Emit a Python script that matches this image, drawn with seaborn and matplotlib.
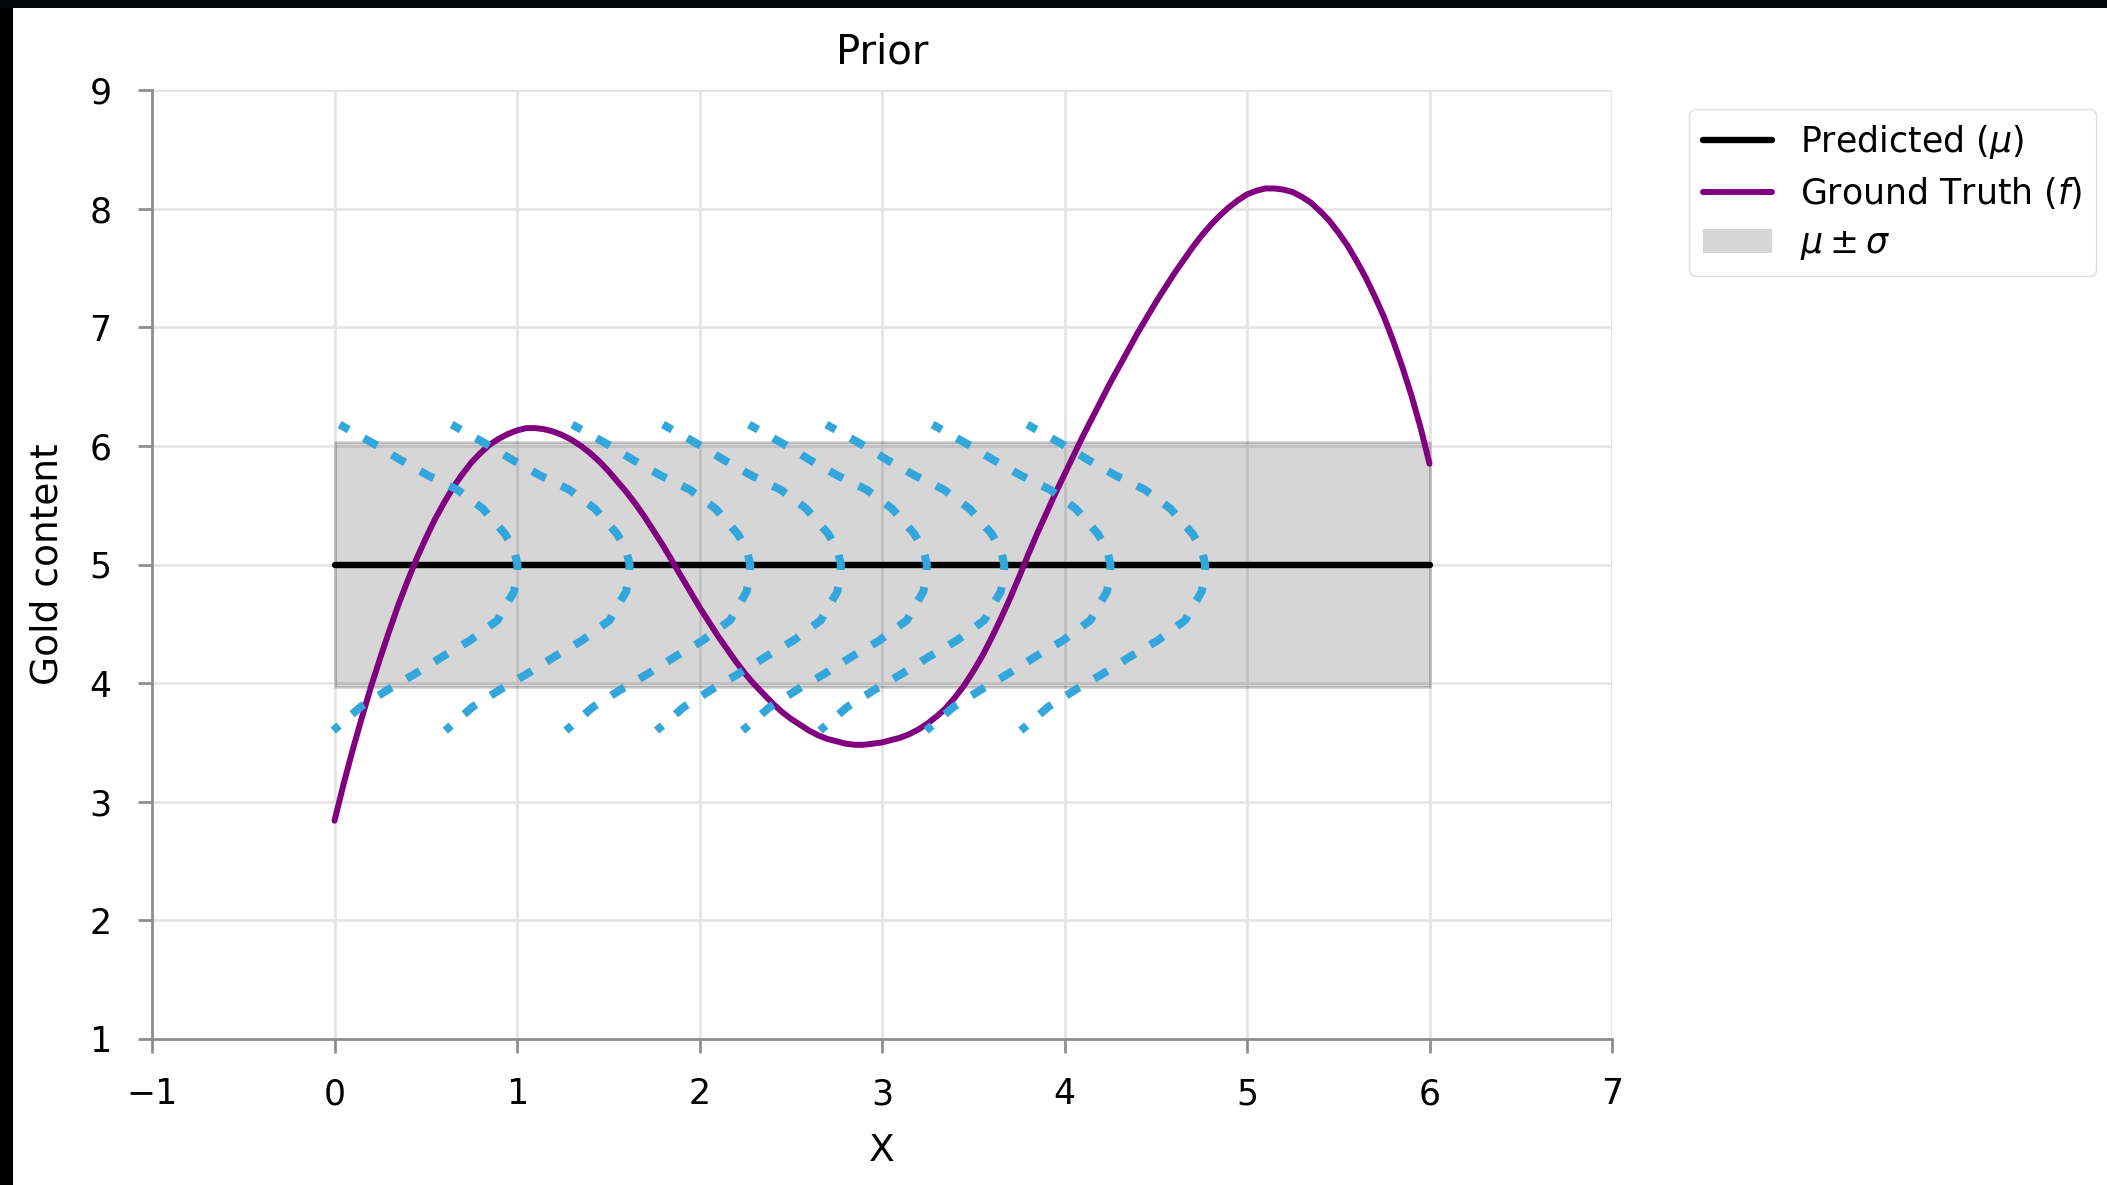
import matplotlib
matplotlib.use("Agg")
import matplotlib.pyplot as plt
from matplotlib.patches import Rectangle, Patch
from matplotlib.lines import Line2D
import pandas as pd
import seaborn as sns

# Ground truth gold content f(x), read every 0.05
truth_x = [0.0, 0.05, 0.1, 0.15, 0.2, 0.25, 0.3, 0.35, 0.4, 0.45,
           0.5, 0.55, 0.6, 0.65, 0.7, 0.75, 0.8, 0.85, 0.9, 0.95,
           1.0, 1.05, 1.1, 1.15, 1.2, 1.25, 1.3, 1.35, 1.4, 1.45,
           1.5, 1.55, 1.6, 1.65, 1.7, 1.75, 1.8, 1.85, 1.9, 1.95,
           2.0, 2.05, 2.1, 2.15, 2.2, 2.25, 2.3, 2.35, 2.4, 2.45,
           2.5, 2.55, 2.6, 2.65, 2.7, 2.75, 2.8, 2.85, 2.9, 2.95,
           3.0, 3.05, 3.1, 3.15, 3.2, 3.25, 3.3, 3.35, 3.4, 3.45,
           3.5, 3.55, 3.6, 3.65, 3.7, 3.75, 3.8, 3.85, 3.9, 3.95,
           4.0, 4.05, 4.1, 4.15, 4.2, 4.25, 4.3, 4.35, 4.4, 4.45,
           4.5, 4.55, 4.6, 4.65, 4.7, 4.75, 4.8, 4.85, 4.9, 4.95,
           5.0, 5.05, 5.1, 5.15, 5.2, 5.25, 5.3, 5.35, 5.4, 5.45,
           5.5, 5.55, 5.6, 5.65, 5.7, 5.75, 5.8, 5.85, 5.9, 5.95, 6.0]
truth_y = [2.84, 3.15, 3.44, 3.71, 3.97, 4.21, 4.44, 4.66, 4.86, 5.05,
           5.22, 5.38, 5.52, 5.65, 5.76, 5.86, 5.94, 6.01, 6.06, 6.10,
           6.13, 6.15, 6.15, 6.14, 6.12, 6.09, 6.05, 6.00, 5.94, 5.87,
           5.79, 5.70, 5.61, 5.51, 5.40, 5.28, 5.16, 5.03, 4.90, 4.77,
           4.64, 4.52, 4.40, 4.29, 4.18, 4.08, 3.99, 3.91, 3.83, 3.76,
           3.70, 3.65, 3.60, 3.56, 3.53, 3.51, 3.49, 3.48, 3.48, 3.49,
           3.50, 3.52, 3.54, 3.57, 3.61, 3.66, 3.72, 3.79, 3.88, 3.98,
           4.10, 4.23, 4.38, 4.54, 4.71, 4.89, 5.08, 5.26, 5.43, 5.60,
           5.76, 5.92, 6.08, 6.23, 6.38, 6.53, 6.67, 6.81, 6.95, 7.08,
           7.21, 7.33, 7.45, 7.56, 7.67, 7.77, 7.86, 7.94, 8.01, 8.07,
           8.12, 8.15, 8.17, 8.17, 8.16, 8.14, 8.10, 8.05, 7.98, 7.90,
           7.80, 7.69, 7.56, 7.42, 7.26, 7.09, 6.89, 6.67, 6.43, 6.16, 5.85]

# Prior mean and standard deviation over the domain
domain = [0.0, 6.0]
prior_mu = 5.0
prior_sigma = 1.03

# Sideways prior densities: peak position of each one
density_peaks = [1.003, 1.617, 2.278, 2.775, 3.246, 3.670, 4.252, 4.771]
# Shared outline of a density: horizontal offset from its peak, and y
profile_dx = [-0.975, -0.79, -0.64, -0.49, -0.33, -0.19, -0.07, -0.02, 0.0,
              -0.005, -0.02, -0.11, -0.26, -0.415, -0.56, -0.715, -0.86, -1.01]
profile_y = [6.18, 6.02, 5.88, 5.75, 5.63, 5.47, 5.26, 5.13, 5.0,
             4.88, 4.77, 4.53, 4.36, 4.22, 4.08, 3.94, 3.80, 3.60]

x_ticks = [-1, 0, 1, 2, 3, 4, 5, 6, 7]
y_ticks = [1, 2, 3, 4, 5, 6, 7, 8, 9]

sns.set_theme(style="whitegrid")
plt.rcParams["font.family"] = ["DejaVu Sans"]
plt.rcParams["mathtext.fontset"] = "dejavusans"
plt.rcParams["text.color"] = "black"
plt.rcParams["axes.labelcolor"] = "black"

fig = plt.figure(figsize=(21.07, 11.85), dpi=100)
fig.patch.set_facecolor("white")
ax = fig.add_axes([152 / 2107, 1 - 1039 / 1185, (1612 - 152) / 2107, (1039 - 90) / 1185])
ax.set_facecolor("white")

truth = pd.DataFrame({"x": truth_x, "f": truth_y})
mean_df = pd.DataFrame({"x": domain, "mu": [prior_mu, prior_mu]})
rows = []
for i, peak in enumerate(density_peaks):
    for dx, yv in zip(profile_dx, profile_y):
        rows.append({"curve": i, "x": peak + dx, "y": yv})
dens = pd.DataFrame(rows)

ax.fill_between(domain, prior_mu - prior_sigma, prior_mu + prior_sigma,
                color="black", alpha=0.16, lw=2.0, zorder=2)
sns.lineplot(data=mean_df, x="x", y="mu", color="black", linewidth=4.6, ax=ax, zorder=3)
sns.lineplot(data=truth, x="x", y="f", color="#800080", linewidth=4.3, ax=ax, zorder=4)
sns.lineplot(data=dens, x="x", y="y", units="curve", estimator=None, sort=False,
             color="#33a6dc", linewidth=5.8, linestyle=(0.6, (1.9, 2.15)), ax=ax, zorder=5)

ax.set_xlim(-1, 7)
ax.set_ylim(1, 9)
ax.set_xticks(x_ticks)
ax.set_yticks(y_ticks)
ax.set_xticklabels([f"{t}".replace("-", "\u2212") for t in x_ticks])
ax.grid(True, color="#e4e4e4", lw=1.9)
ax.set_axisbelow(True)
for side in ["top", "right"]:
    ax.spines[side].set_visible(False)
for side in ["left", "bottom"]:
    ax.spines[side].set_color("#8e8e8e")
    ax.spines[side].set_linewidth(2.0)
ax.tick_params(axis="both", which="major", length=10, width=2.0, color="#8e8e8e",
               labelsize=25, labelcolor="black", direction="out", bottom=True, left=True)
ax.tick_params(axis="x", pad=17.5)
ax.tick_params(axis="y", pad=19)

ax.set_title("Prior", fontsize=29, pad=19)
ax.set_xlabel("X", fontsize=27, labelpad=16)
ax.set_ylabel("Gold content", fontsize=27, labelpad=17)

handles = [
    Line2D([0], [0], color="black", lw=4.6),
    Line2D([0], [0], color="#800080", lw=4.3),
    Patch(facecolor="#d6d6d6", edgecolor="none"),
]
labels = [r"Predicted ($\mu$)", r"Ground Truth ($f$)", r"$\mu \pm \sigma$"]
fig.legend(handles, labels, loc="upper left", bbox_to_anchor=(1689 / 2107, 1 - 109 / 1185),
           fontsize=25, frameon=True, fancybox=True, edgecolor="#dddddd",
           facecolor="white", framealpha=1.0, borderaxespad=0.0, labelspacing=0.42)

# Dark frame strips along the left and top edges
fig.add_artist(Rectangle((0, 0), 13 / 2107, 1, transform=fig.transFigure,
                         facecolor="black", edgecolor="none", zorder=10))
fig.add_artist(Rectangle((0, 1 - 8 / 1185), 1, 8 / 1185, transform=fig.transFigure,
                         facecolor="#03090d", edgecolor="none", zorder=10))

fig.savefig("out.png", dpi=100, facecolor="white")
